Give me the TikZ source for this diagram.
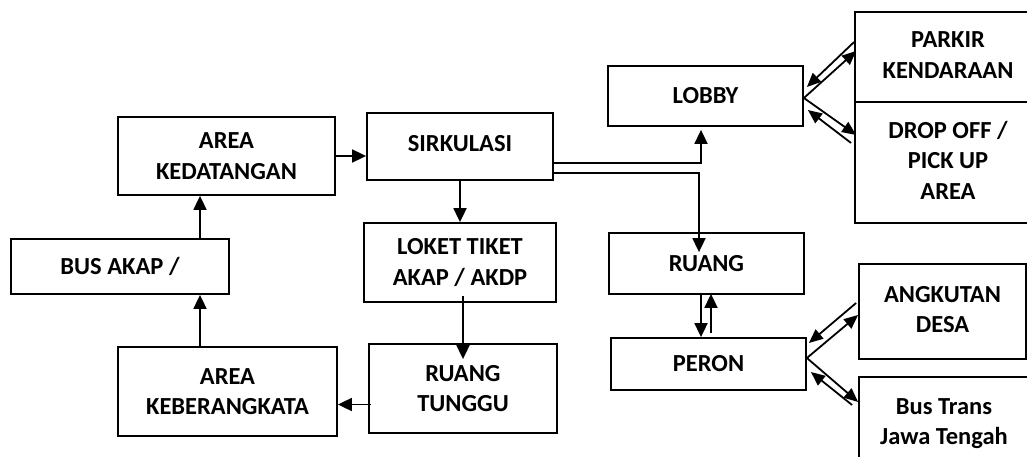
\documentclass[tikz,border=0pt]{standalone}
\usepackage{fontspec}
\setmainfont{Carlito}
\usetikzlibrary{arrows.meta,calc}
\begin{document}
\begin{tikzpicture}[x=1pt,y=-1pt,
  box/.style={draw,line width=1.8pt,rectangle,inner sep=0pt,align=center,
    font=\bfseries\fontsize{24.5}{30.5}\selectfont},
  conn/.style={line width=1.8pt},
  arr/.style={conn,-{Triangle[length=14pt,width=13pt]}},
  farr/.style={conn,-{Triangle[length=14pt,width=12pt]}}]
\useasboundingbox (0,0) rectangle (1027,457);
\clip (0,0) rectangle (1027,457);
% boxes
\node[box,minimum width=217pt,minimum height=78pt] (ked) at (226.5,156) {AREA\\KEDATANGAN};
\node[box,minimum width=218pt,minimum height=55pt] (bus) at (120,266.5) {BUS AKAP /};
\node[box,minimum width=219pt,minimum height=89pt] (keb) at (227.5,391.5) {AREA\\KEBERANGKATA};
\node[box,minimum width=186pt,minimum height=67pt] (sirk) at (460,146.5) {\raisebox{6pt}{SIRKULASI}};
\node[box,minimum width=192pt,minimum height=79pt] (loket) at (460,262.5) {LOKET TIKET\\AKAP / AKDP};
\node[box,minimum width=188pt,minimum height=89pt] (tunggu) at (463,388.5) {RUANG\\TUNGGU};
\node[box,minimum width=195pt,minimum height=60pt] (lobby) at (705.5,96) {LOBBY};
\node[box,minimum width=195pt,minimum height=61pt] (ruang) at (706.5,263.5) {RUANG};
\node[box,minimum width=195pt,minimum height=52pt] (peron) at (708.5,364) {PERON};
\node[box,minimum width=186pt,minimum height=90pt] (parkir) at (948,57) {\raisebox{2pt}{\begin{tabular}{@{}c@{}}PARKIR\\KENDARAAN\end{tabular}}};
\node[box,minimum width=186pt,minimum height=121pt] (drop) at (948,162.5) {\raisebox{3pt}{\begin{tabular}{@{}c@{}}DROP OFF /\\PICK UP\\AREA\end{tabular}}};
\node[box,minimum width=167pt,minimum height=95pt] (angk) at (942.5,311.5) {\raisebox{3pt}{\begin{tabular}{@{}c@{}}ANGKUTAN\\DESA\end{tabular}}};
\node[box,minimum width=170pt,minimum height=93pt] (bust) at (944,423.5) {Bus Trans\\Jawa Tengah};
% connectors
\draw[arr] (ked.east) -- (ked.east -| sirk.west);
\draw[arr] ($(bus.north)+(80,0)$) -- ($(ked.south)+(-26.5,0)$);
\draw[arr] ($(keb.north)+(-27.5,0)$) -- ($(bus.south)+(80,0)$);
\draw[arr] ($(tunggu.west)+(3,16)$) -- ($(keb.east)+(0,13)$);
\draw[arr] (sirk.south) -- (loket.north);
\draw[arr] ($(loket.south)+(3,-7)$) -- ($(tunggu.north)+(0,16)$);
\draw[arr] ($(sirk.east)+(0,16.5)$) -| ($(lobby.south)+(-4.5,3)$);
\draw[arr] ($(sirk.east)+(0,26.5)$) -| ($(ruang.north)+(-7.5,20)$);
\draw[arr] ($(ruang.south)+(-5.5,0)$) -- ($(peron.north)+(-7.5,0)$);
\draw[arr] ($(peron.north)+(2.5,-4)$) -- ($(ruang.south)+(4.5,-1)$);
% lobby fan
\coordinate (lapex) at ($(lobby.east)+(0,2)$);
\draw[farr] (lapex) -- ($(parkir.west)+(2,-6)$);
\draw[farr] ($(parkir.west)+(0,-15)$) -- ($(lobby.east)+(3,-9)$);
\draw[farr] (lapex) -- ($(drop.west)+(2,-27.5)$);
\draw[farr] ($(drop.west)+(-3,-19.5)$) -- ($(lobby.east)+(4,14)$);
% peron fan
\coordinate (papex) at ($(peron.east)+(0,-6)$);
\draw[farr] (papex) -- ($(angk.west)+(0,3.5)$);
\draw[farr] ($(angk.west)+(-2,-8.5)$) -- ($(peron.east)+(2,-21)$);
\draw[farr] (papex) -- ($(bust.west)+(0,-21.5)$);
\draw[farr] ($(bust.west)+(-6,-18.5)$) -- ($(peron.east)+(4,8)$);
\end{tikzpicture}
\end{document}
